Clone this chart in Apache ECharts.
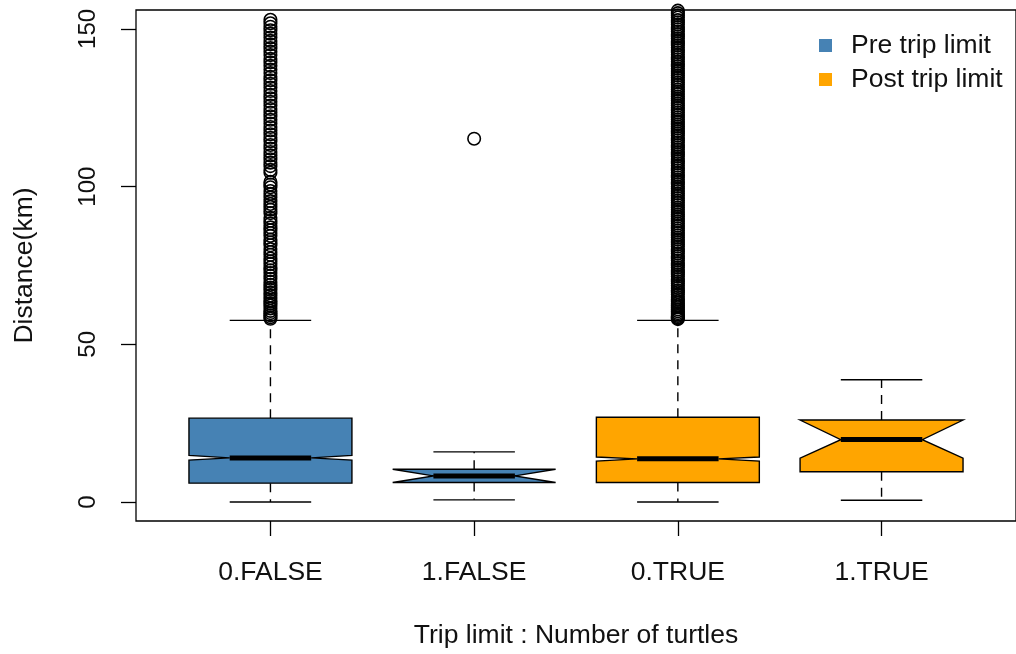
<!DOCTYPE html>
<html><head><meta charset="utf-8">
<script src="https://cdn.jsdelivr.net/npm/echarts@6/dist/echarts.min.js"></script>
<style>html,body{margin:0;padding:0;background:#fff}#c{width:1016px;height:654px}</style>
</head><body><div id="c"></div>
<script>
const categories = ['0.FALSE', '1.FALSE', '0.TRUE', '1.TRUE'];
const yTicks = [0, 50, 100, 150];
const seriesNames = ['Pre trip limit', 'Post trip limit'];
// [position, lowWhisker, q1, notchLo, median, notchHi, q3, highWhisker]
const preStats = [
  [1, 0.0, 6.0, 13.3, 14.0, 14.8, 26.6, 57.6],
  [2, 0.7, 6.2, 6.2, 8.3, 10.4, 10.4, 15.9]
];
const postStats = [
  [3, 0.0, 6.2, 13.0, 13.7, 14.3, 26.9, 57.6],
  [4, 0.6, 9.6, 13.9, 19.8, 26.0, 26.0, 38.8]
];
const outliers0False = [58.1, 58.6, 59.2, 59.9, 60.6, 61.4, 62.3, 63.0, 63.8, 64.7, 65.5, 66.4, 67.3, 68.0, 68.9, 69.8, 70.8, 71.7, 72.6, 73.5, 74.4, 75.5, 76.3, 77.2, 78.4, 79.3, 80.2, 81.4, 82.3, 83.2, 84.4, 85.3, 86.2, 87.1, 88.3, 89.2, 90.1, 91.6, 92.7, 93.6, 94.5, 95.4, 96.6, 97.7, 98.6, 99.8, 100.7, 101.5, 104.4, 105.3, 106.5, 107.6, 108.7, 109.9, 111.0, 112.1, 113.2, 114.4, 115.5, 116.6, 117.8, 118.9, 120.0, 121.2, 122.3, 123.5, 124.6, 125.7, 126.9, 128.0, 129.1, 130.3, 131.4, 132.6, 133.7, 134.8, 136.0, 137.1, 138.3, 139.4, 140.5, 141.7, 142.8, 143.9, 145.1, 146.2, 147.3, 148.5, 149.6, 150.7, 151.8, 152.9];
const outliers1False = [115.2];
const outliers0True = [58.0, 58.3, 58.6, 59.0, 59.4, 59.9, 60.5, 61.1, 61.8, 62.4, 63.1, 63.7, 64.4, 65.0, 65.8, 66.5, 67.1, 67.9, 68.6, 69.3, 70.0, 70.7, 71.5, 72.2, 72.9, 73.6, 74.4, 75.1, 75.8, 76.6, 77.3, 78.0, 78.8, 79.5, 80.2, 81.0, 81.7, 82.4, 83.2, 83.9, 84.6, 85.4, 86.1, 86.8, 87.6, 88.3, 89.0, 89.8, 90.5, 91.2, 92.0, 92.7, 93.4, 94.2, 94.9, 95.6, 96.4, 97.1, 97.8, 98.6, 99.3, 100.0, 100.8, 101.5, 102.2, 103.0, 103.7, 104.4, 105.2, 105.9, 106.6, 107.4, 108.1, 108.8, 109.6, 110.3, 111.0, 111.8, 112.5, 113.2, 114.0, 114.7, 115.4, 116.2, 116.9, 117.6, 118.4, 119.1, 119.8, 120.6, 121.3, 122.0, 122.8, 123.5, 124.2, 125.0, 125.7, 126.4, 127.2, 127.9, 128.6, 129.4, 130.1, 130.8, 131.6, 132.3, 133.0, 133.8, 134.5, 135.2, 136.0, 136.7, 137.4, 138.2, 138.9, 139.6, 140.4, 141.1, 141.8, 142.6, 143.3, 144.0, 144.8, 145.5, 146.2, 147.0, 147.7, 148.4, 149.2, 149.9, 150.6, 151.4, 152.1, 152.8, 153.6, 154.3, 155.0, 155.8];
const colors = ['#4682B4', '#FFA500'];

const chart = echarts.init(document.getElementById('c'), null, {renderer: 'canvas'});
const FONT = 'Liberation Sans, Arial, Helvetica, sans-serif';
const FS = 26.5;

function renderBox(params, api) {
  const x = api.value(0);
  const lw = api.value(1), q1 = api.value(2), nlo = api.value(3), med = api.value(4),
        nhi = api.value(5), q3 = api.value(6), hw = api.value(7);
  const half = api.size([0.4, 0])[0];
  const nh = half / 2;
  const cx = api.coord([x, 0])[0];
  const y = v => api.coord([x, v])[1];
  const fill = api.visual('color');
  const lineStyle = {stroke: '#000', lineWidth: 1.4};
  const dash = {stroke: '#000', lineWidth: 1.4, lineDash: [9, 7]};
  return {
    type: 'group',
    children: [
      {type: 'line', shape: {x1: cx, y1: y(q3), x2: cx, y2: y(hw)}, style: dash},
      {type: 'line', shape: {x1: cx, y1: y(q1), x2: cx, y2: y(lw)}, style: dash},
      {type: 'line', shape: {x1: cx - nh, y1: y(hw), x2: cx + nh, y2: y(hw)}, style: lineStyle},
      {type: 'line', shape: {x1: cx - nh, y1: y(lw), x2: cx + nh, y2: y(lw)}, style: lineStyle},
      {type: 'polygon', shape: {points: [
        [cx - half, y(q1)], [cx - half, y(nlo)], [cx - nh, y(med)], [cx - half, y(nhi)], [cx - half, y(q3)],
        [cx + half, y(q3)], [cx + half, y(nhi)], [cx + nh, y(med)], [cx + half, y(nlo)], [cx + half, y(q1)]
      ]}, style: {fill: fill, stroke: '#000', lineWidth: 1.4}},
      {type: 'line', shape: {x1: cx - nh, y1: y(med), x2: cx + nh, y2: y(med)}, style: {stroke: '#000', lineWidth: 5}}
    ]
  };
}

function outlierData(pos, arr) { return arr.map(v => [pos, v]); }

const outlierStyle = {
  type: 'scatter', symbol: 'circle', symbolSize: 12.5, silent: true, clip: true,
  itemStyle: {color: 'rgba(0,0,0,0)', borderColor: '#000', borderWidth: 1.6, opacity: 1},
  emphasis: {disabled: true}, z: 3
};

chart.setOption({
  animation: false,
  backgroundColor: '#fff',
  textStyle: {fontFamily: FONT},
  grid: {left: 136, top: 10, width: 881, height: 512, show: true, borderColor: '#000', borderWidth: 1.3, containLabel: false},
  legend: {
    data: seriesNames, orient: 'vertical', left: 814, top: 27, icon: 'rect',
    itemWidth: 13, itemHeight: 13, itemGap: 7,
    textStyle: {fontSize: FS, color: '#111', fontFamily: FONT, padding: [0, 0, 0, 14]}
  },
  xAxis: {
    type: 'value', min: 0.34, max: 4.66,
    name: 'Trip limit : Number of turtles', nameLocation: 'middle', nameGap: 101,
    nameTextStyle: {fontSize: FS, color: '#111', fontFamily: FONT},
    axisLine: {show: false, onZero: false},
    splitLine: {show: false},
    axisTick: {show: true, length: 15, customValues: [1, 2, 3, 4], lineStyle: {color: '#000', width: 1.3}},
    axisLabel: {customValues: [1, 2, 3, 4], margin: 38, fontSize: FS, color: '#111', fontFamily: FONT,
      formatter: v => categories[Math.round(v) - 1] || ''}
  },
  yAxis: {
    type: 'value', min: -6, max: 156,
    name: 'Distance(km)', nameLocation: 'middle', nameGap: 98, nameRotate: 90,
    nameTextStyle: {fontSize: FS, color: '#111', fontFamily: FONT},
    axisLine: {show: false, onZero: false},
    splitLine: {show: false},
    axisTick: {show: true, length: 15, customValues: yTicks, lineStyle: {color: '#000', width: 1.3}},
    axisLabel: {customValues: yTicks, rotate: 90, margin: 36, fontSize: 24, color: '#111', fontFamily: FONT}
  },
  series: [
    {name: seriesNames[0], type: 'custom', renderItem: renderBox, data: preStats,
      itemStyle: {color: colors[0]}, encode: {x: 0, y: [1, 2, 3, 4, 5, 6, 7]}, clip: true, z: 2},
    {name: seriesNames[1], type: 'custom', renderItem: renderBox, data: postStats,
      itemStyle: {color: colors[1]}, encode: {x: 0, y: [1, 2, 3, 4, 5, 6, 7]}, clip: true, z: 2},
    Object.assign({name: 'out1', data: outlierData(1, outliers0False)}, outlierStyle),
    Object.assign({name: 'out2', data: outlierData(2, outliers1False)}, outlierStyle),
    Object.assign({name: 'out3', data: outlierData(3, outliers0True)}, outlierStyle)
  ]
});
</script>
</body></html>
